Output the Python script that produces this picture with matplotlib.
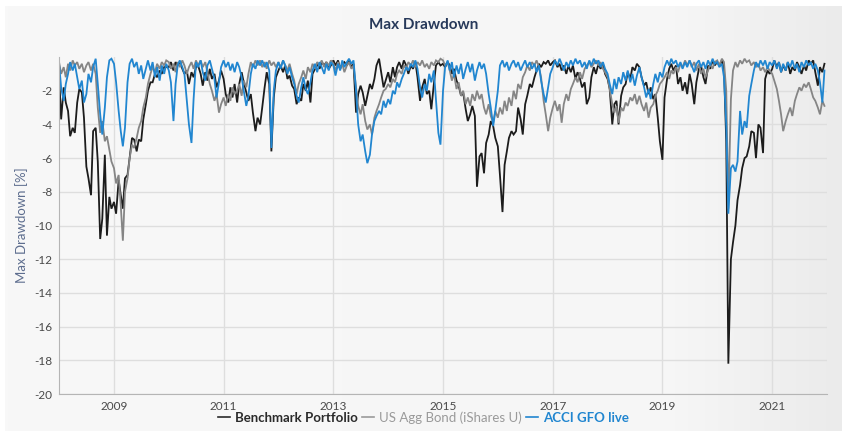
import numpy as np
import pandas as pd
import matplotlib
matplotlib.use("Agg")
import matplotlib.pyplot as plt
from matplotlib.colors import LinearSegmentedColormap
from matplotlib.lines import Line2D

plt.rcParams["font.family"] = ["Lato", "DejaVu Sans"]

# semi-monthly samples, Jan 2008 .. Dec 2021 (24 per year)
dates = pd.date_range("2008-01-01", "2021-12-15", freq="SMS")

series_names = ["Benchmark Portfolio", "US Agg Bond (iShares U)", "ACCI GFO live"]

# max drawdown in %, one row per year
benchmark = [
    -1.0, -3.7, -1.8, -2.7, -3.2, -4.7, -4.2, -4.5, -2.7, -1.9, -2.1, -3.6, -6.5, -7.2, -8.2, -4.4, -4.2, -6.2, -10.8, -9.6, -5.8, -10.6, -8.3, -9.0,
    -8.6, -9.3, -7.3, -8.2, -9.0, -7.2, -7.0, -6.0, -4.8, -4.9, -5.6, -4.9, -5.0, -3.7, -2.8, -2.0, -1.5, -1.5, -1.0, -1.2, -0.8, -1.0, -0.6, -0.6,
    -0.6, -0.3, -0.8, -0.3, -0.5, -0.3, -0.7, -1.0, -0.8, -1.6, -0.9, -1.2, -0.6, -0.5, -1.0, -1.7, -0.9, -1.4, -0.7, -1.3, -1.0, -1.8, -1.4, -0.8,
    -1.3, -2.2, -2.7, -1.8, -2.4, -1.6, -2.7, -1.6, -0.9, -1.5, -2.1, -2.6, -2.2, -3.3, -4.4, -3.6, -4.0, -3.0, -1.8, -0.9, -1.6, -5.6, -2.4, -1.2,
    -0.8, -0.5, -0.9, -0.5, -1.3, -1.1, -1.7, -1.9, -2.8, -2.4, -2.6, -1.6, -2.0, -1.4, -2.7, -1.0, -0.7, -0.4, -0.7, -0.3, -0.5, -0.3, -0.7, -0.5,
    -0.2, -0.5, -0.2, -0.7, -0.4, -0.3, -0.5, -0.2, -0.6, -0.4, -3.3, -2.2, -1.7, -2.1, -2.9, -2.3, -1.6, -1.9, -1.3, -0.5, -0.1, -0.9, -1.8, -1.4,
    -0.9, -1.5, -0.6, -1.2, -0.6, -0.3, -0.7, -0.2, -0.5, -1.0, -0.5, -0.7, -0.3, -1.2, -2.6, -1.8, -1.3, -2.2, -2.0, -3.1, -1.6, -0.5, -0.3, -0.5,
    -0.4, -0.6, -0.3, -0.5, -1.0, -0.7, -1.4, -1.7, -2.3, -2.1, -3.1, -3.8, -3.4, -2.9, -3.5, -7.7, -5.9, -5.7, -6.9, -5.1, -4.6, -3.8, -4.1, -4.8,
    -5.3, -7.0, -9.2, -6.4, -5.6, -4.8, -4.4, -4.6, -4.4, -3.0, -3.7, -4.6, -2.8, -2.3, -1.6, -1.8, -1.2, -0.8, -0.4, -0.6, -0.3, -0.4, -0.2, -0.5,
    -0.3, -0.2, -0.6, -0.4, -0.8, -0.5, -1.0, -0.5, -0.9, -0.5, -1.3, -0.9, -1.3, -1.8, -1.5, -2.8, -2.4, -1.2, -0.6, -1.0, -0.4, -0.7, -0.4, -1.0,
    -1.3, -1.9, -4.0, -2.8, -2.6, -4.0, -2.3, -1.8, -1.6, -0.9, -1.3, -0.6, -0.8, -0.4, -0.6, -1.2, -1.7, -1.5, -2.2, -1.8, -2.5, -2.2, -3.6, -5.0,
    -6.1, -2.4, -1.3, -0.7, -0.4, -0.8, -0.5, -1.6, -1.2, -2.0, -1.5, -2.2, -1.0, -1.6, -2.8, -1.5, -0.7, -0.5, -1.2, -1.6, -0.5, -0.7, -0.2, -0.5,
    -0.3, -0.5, -0.2, -0.7, -5.0, -18.2, -12.0, -11.0, -10.0, -8.5, -7.6, -6.6, -6.0, -5.9, -5.3, -4.4, -4.5, -6.0, -4.0, -4.2, -5.7, -1.3, -0.8, -1.0,
    -0.7, -0.2, -0.6, -0.3, -0.9, -0.5, -0.8, -0.3, -1.0, -0.6, -0.8, -0.3, -0.6, -1.0, -0.5, -0.8, -0.2, -0.4, -0.2, -0.9, -1.7, -0.6, -0.9, -0.4,
]

us_agg = [
    -0.3, -1.0, -0.6, -1.2, -0.4, -0.8, -0.2, -0.5, -0.3, -0.7, -0.4, -0.9, -0.5, -0.3, -0.8, -0.4, -1.0, -3.0, -4.5, -3.8, -5.0, -4.7, -5.5, -6.2,
    -6.6, -7.5, -7.0, -8.8, -10.9, -8.0, -7.2, -6.0, -5.2, -5.4, -4.8, -4.2, -3.8, -3.0, -2.4, -1.6, -1.0, -0.6, -0.9, -0.4, -0.7, -0.3, -0.5, -0.2,
    -0.3, -0.7, -0.4, -0.9, -0.3, -0.6, -0.2, -0.5, -1.0, -0.6, -0.3, -0.7, -0.2, -0.5, -0.2, -0.6, -0.3, -0.9, -1.6, -2.0, -2.6, -2.2, -3.3, -2.8,
    -2.4, -2.9, -2.2, -2.6, -1.8, -2.2, -2.0, -1.6, -2.3, -1.4, -1.8, -1.0, -0.3, -0.6, -0.2, -0.5, -0.2, -0.6, -0.3, -0.7, -0.2, -0.5, -0.3, -0.6,
    -0.3, -0.6, -0.2, -0.5, -0.8, -0.4, -1.0, -1.4, -2.2, -1.6, -1.2, -0.8, -1.3, -0.6, -0.9, -0.4, -0.7, -0.3, -0.5, -0.2, -0.6, -0.3, -0.5, -0.2,
    -0.4, -0.8, -0.3, -0.7, -0.4, -0.9, -0.5, -0.3, -0.7, -0.5, -1.8, -2.9, -3.4, -2.8, -3.8, -4.3, -4.0, -4.6, -3.6, -3.2, -2.8, -2.4, -2.0, -1.9,
    -1.6, -1.8, -1.3, -1.5, -1.0, -0.8, -1.0, -0.5, -0.7, -0.3, -0.5, -0.2, -0.6, -0.3, -0.5, -0.2, -0.6, -0.4, -0.7, -0.3, -0.5, -0.2, -0.3, -0.1,
    -0.2, -0.5, -0.3, -0.8, -1.4, -1.0, -1.9, -1.5, -2.3, -2.0, -2.8, -2.4, -2.9, -2.2, -2.6, -2.0, -2.5, -2.2, -3.0, -3.4, -2.8, -3.5, -3.9, -3.2,
    -3.6, -3.0, -3.4, -2.6, -3.2, -2.4, -2.9, -2.0, -2.5, -1.6, -1.9, -1.2, -0.9, -0.5, -0.8, -0.3, -0.5, -0.2, -0.6, -1.2, -2.6, -3.4, -4.4, -3.6,
    -3.0, -2.6, -3.2, -2.8, -3.9, -2.8, -2.2, -2.6, -1.9, -1.6, -1.2, -1.5, -0.9, -1.3, -0.7, -0.5, -0.3, -0.6, -0.4, -0.2, -0.5, -0.3, -0.7, -0.9,
    -1.2, -1.9, -2.8, -3.3, -2.9, -3.9, -3.0, -3.2, -2.7, -2.9, -2.4, -2.6, -2.2, -2.8, -2.3, -2.8, -3.2, -2.7, -3.6, -3.0, -2.8, -2.3, -2.0, -1.6,
    -1.4, -1.2, -0.9, -1.3, -0.8, -1.0, -0.6, -0.9, -0.4, -0.6, -0.2, -0.5, -0.2, -0.6, -0.3, -0.8, -0.4, -1.0, -0.7, -1.2, -0.8, -0.4, -0.7, -0.3,
    -0.2, -0.5, -0.1, -0.3, -2.0, -9.0, -2.5, -0.8, -0.3, -0.6, -0.2, -0.4, -0.1, -0.3, -0.2, -0.5, -0.3, -0.6, -0.4, -0.8, -0.6, -0.9, -0.6, -0.8,
    -1.0, -1.4, -1.9, -2.6, -3.4, -4.4, -3.8, -3.4, -3.0, -3.5, -2.6, -2.2, -1.8, -2.0, -1.6, -1.8, -1.5, -1.9, -2.4, -2.6, -3.0, -3.4, -2.6, -2.9,
]

acci_gfo = [
    -0.4, -1.8, -2.6, -1.6, -1.0, -0.3, -0.8, -0.4, -1.2, -1.9, -1.4, -2.7, -2.2, -1.0, -1.5, -0.6, -0.1, -1.6, -3.4, -4.6, -3.0, -1.2, -0.2, -0.1,
    -0.4, -1.5, -3.2, -4.4, -5.3, -4.2, -1.5, -0.4, -0.1, -0.6, -0.3, -1.0, -0.5, -1.3, -0.7, -0.2, -0.8, -0.3, -1.2, -0.6, -1.4, -0.5, -1.0, -0.4,
    -0.8, -1.5, -3.8, -1.6, -0.5, -0.2, -0.6, -1.0, -2.6, -4.0, -5.1, -2.5, -0.3, -0.6, -0.2, -0.9, -1.4, -0.5, -0.2, -0.7, -1.3, -2.4, -1.5, -0.6,
    -0.2, -0.6, -0.3, -0.8, -0.4, -0.9, -0.3, -0.6, -1.2, -2.0, -2.9, -2.3, -1.0, -0.4, -0.7, -0.2, -0.5, -0.2, -0.6, -0.3, -0.8, -5.4, -2.0, -0.8,
    -0.3, -0.7, -0.2, -0.5, -1.0, -0.6, -1.2, -1.6, -2.3, -2.7, -1.8, -1.2, -1.9, -2.2, -1.5, -0.8, -0.4, -0.9, -0.3, -0.6, -1.0, -0.4, -0.8, -0.3,
    -0.5, -1.1, -0.4, -0.8, -0.2, -0.6, -0.3, -0.1, -0.4, -0.2, -2.0, -4.0, -5.0, -4.6, -5.6, -6.3, -5.8, -4.6, -3.8, -3.5, -3.2, -3.4, -2.6, -3.0,
    -2.5, -2.8, -2.0, -2.2, -1.5, -1.8, -1.3, -1.0, -0.6, -0.8, -0.4, -0.6, -0.2, -0.7, -1.8, -2.4, -1.6, -2.0, -1.0, -1.5, -0.8, -2.5, -4.5, -5.2,
    -2.0, -0.6, -0.2, -0.8, -0.3, -1.2, -0.5, -1.0, -0.4, -1.3, -0.7, -0.3, -0.9, -0.4, -1.4, -0.8, -0.3, -0.7, -0.4, -1.0, -2.2, -3.0, -4.1, -3.2,
    -2.0, -0.5, -0.2, -0.6, -0.3, -0.8, -0.4, -0.2, -0.6, -0.3, -0.8, -0.5, -0.2, -0.6, -0.3, -0.7, -0.4, -0.9, -0.5, -1.4, -2.2, -2.7, -1.8, -1.0,
    -0.6, -0.2, -0.5, -0.1, -0.4, -0.8, -0.3, -0.6, -0.2, -0.5, -0.1, -0.4, -0.2, -0.6, -0.3, -0.7, -0.2, -0.5, -0.1, -0.4, -0.2, -0.6, -0.3, -0.7,
    -1.0, -1.6, -2.2, -1.3, -1.9, -1.2, -1.6, -0.9, -1.4, -0.8, -1.5, -1.0, -1.7, -1.1, -0.6, -1.2, -1.8, -2.4, -1.9, -2.5, -1.6, -1.0, -1.5, -0.9,
    -1.2, -0.6, -0.2, -0.5, -0.1, -0.4, -0.2, -0.6, -0.3, -0.7, -0.3, -0.6, -0.2, -0.5, -0.9, -0.4, -0.2, -0.6, -0.3, -0.7, -0.2, -0.5, -0.1, -0.4,
    -0.3, -0.6, -0.4, -1.2, -4.0, -9.3, -6.6, -6.4, -6.8, -6.2, -3.2, -4.6, -3.8, -4.2, -2.3, -1.6, -0.8, -0.3, -0.6, -0.2, -0.5, -0.2, -0.7, -0.3,
    -0.5, -0.2, -0.7, -0.3, -0.9, -0.4, -0.8, -0.3, -0.6, -0.2, -0.7, -0.4, -0.9, -0.3, -0.6, -0.2, -0.5, -0.3, -0.7, -0.4, -0.8, -1.5, -2.7, -0.8,
]

tick_years = [2009, 2011, 2013, 2015, 2017, 2019, 2021]
y_ticks = [-20, -18, -16, -14, -12, -10, -8, -6, -4, -2]

colors = ["#1c1c1c", "#858585", "#2186d0"]
legend_colors = ["#2a2a2a", "#9a9a9a", "#2186d0"]
legend_weights = ["bold", "normal", "bold"]

fig = plt.figure(figsize=(8.47, 4.36), dpi=100)
fig.patch.set_facecolor("white")

# light grey panel with a soft gradient on the right
bg = fig.add_axes([0.006, 0.012, 0.988, 0.975], zorder=-5)
grad_cmap = LinearSegmentedColormap.from_list(
    "panel", [(0, "#f8f8f8"), (0.8, "#f6f6f6"), (1, "#ebebeb")])
bg.imshow(np.linspace(0, 1, 256)[None, :], aspect="auto", cmap=grad_cmap,
          extent=[0, 1, 0, 1])
bg.axis("off")

ax = fig.add_axes([0.0697, 0.0963, 0.9067, 0.7729])
ax.patch.set_alpha(0)

for vals, col in zip([benchmark, us_agg, acci_gfo], colors):
    ax.plot(dates, vals, color=col, lw=1.3, solid_joinstyle="miter")

ax.set_xlim(pd.Timestamp("2008-01-01"), pd.Timestamp("2022-01-01"))
ax.set_ylim(-20, 0)
ax.set_xticks([pd.Timestamp(f"{y}-01-01") for y in tick_years])
ax.set_xticklabels([str(y) for y in tick_years])
ax.set_yticks(y_ticks)
ax.set_yticklabels([str(v) for v in y_ticks])
ax.grid(True, color="#dedede", lw=1)
ax.set_axisbelow(True)
for side in ["top", "right"]:
    ax.spines[side].set_visible(False)
for side in ["left", "bottom"]:
    ax.spines[side].set_color("#b5b5b5")
ax.tick_params(length=0, labelsize=8.5, colors="#4a4a4a", pad=5)
ax.set_ylabel("Max Drawdown [%]", color="#5d6d8e", fontsize=9.5, labelpad=4)

fig.text(0.5, 0.943, "Max Drawdown", ha="center", va="center",
         fontsize=11, color="#27395a", weight="bold")

handles = [Line2D([], [], color=c, lw=1.2) for c in legend_colors]
leg = fig.legend(handles, series_names, loc="center", bbox_to_anchor=(0.5, 0.043),
                 ncol=3, frameon=False, fontsize=9.5, handlelength=0.9,
                 handletextpad=0.35, columnspacing=0.35)
for txt, c, w in zip(leg.get_texts(), legend_colors, legend_weights):
    txt.set_color(c)
    txt.set_fontweight(w)

fig.savefig("out.png", dpi=100)
